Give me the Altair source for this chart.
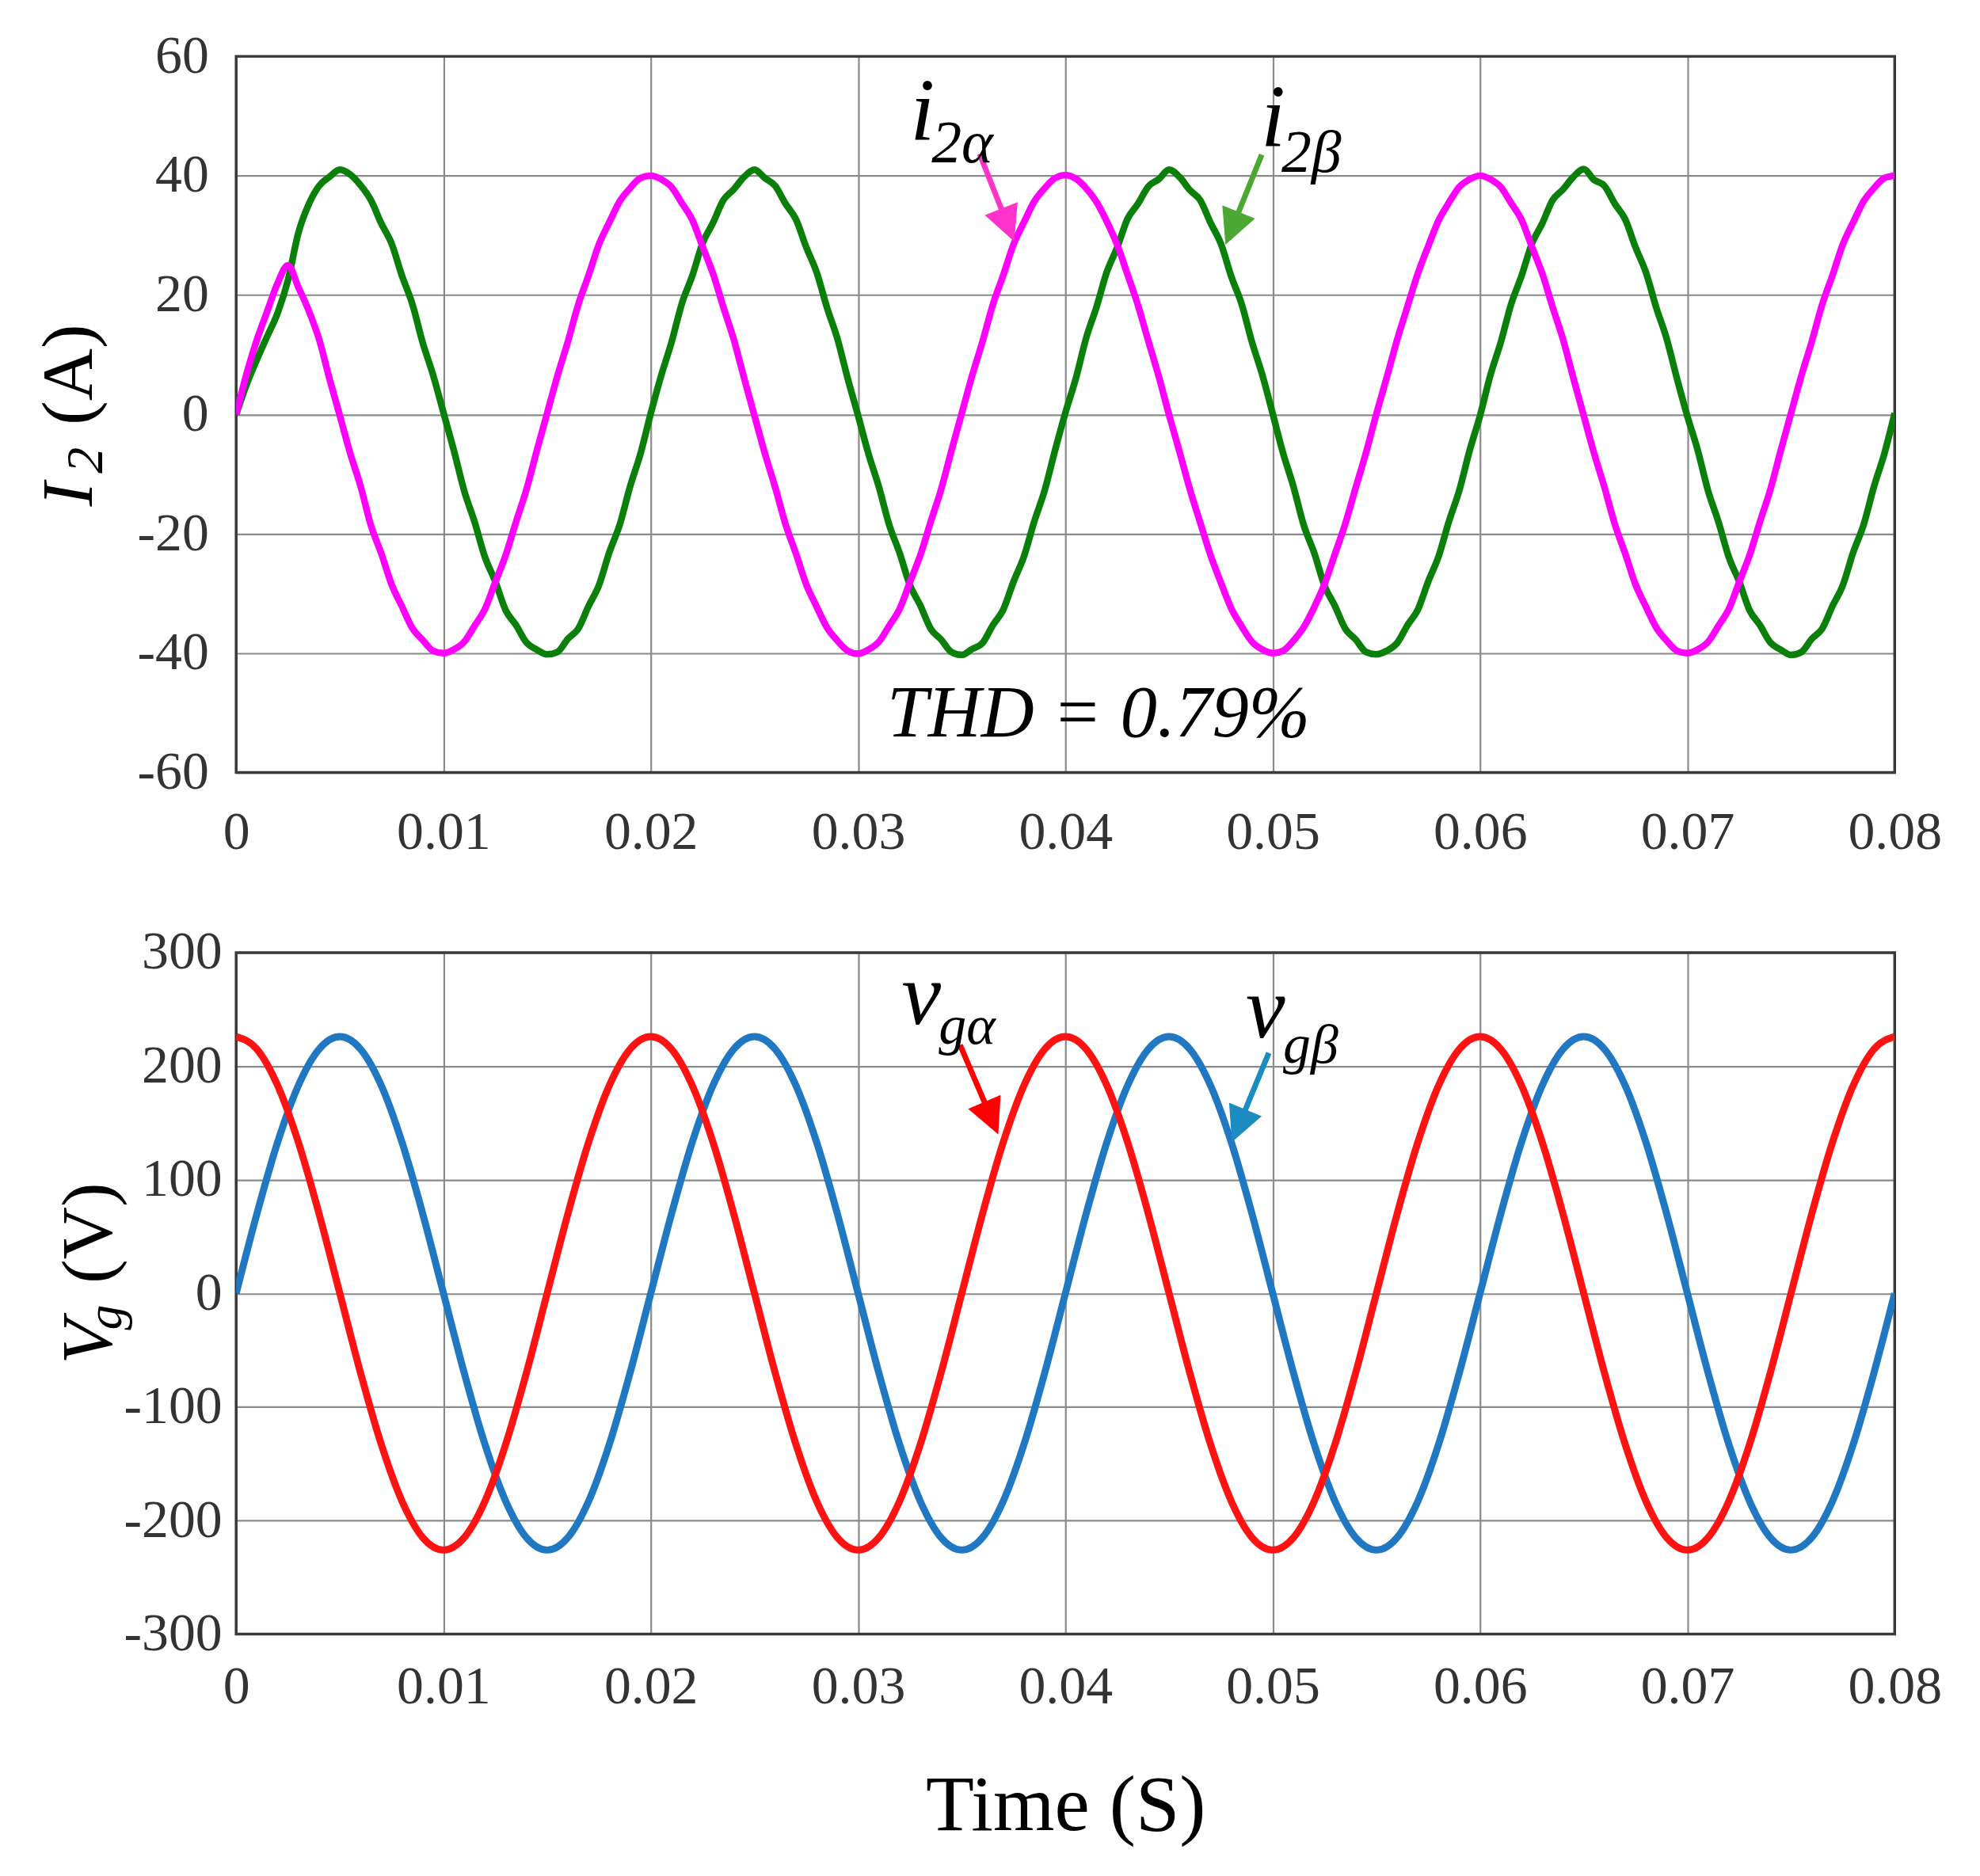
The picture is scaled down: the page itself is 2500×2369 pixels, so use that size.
import math
import altair as alt
import pandas as pd

# ---------------- data ----------------
# current samples every 0.5 ms (sample clock of the recorded waveform)
T_CURRENT = [round(k * 0.0005, 4) for k in range(161)]

I2_ALPHA = [
    0.0, 6.8, 12.5, 17.3, 22.0, 25.0, 21.3, 17.4, 12.6, 6.0,
    -0.2, -6.5, -12.0, -18.6, -23.3, -28.5, -32.2, -35.8, -37.8, -39.6,
    -40.0, -39.4, -38.1, -35.4, -32.6, -28.1, -23.6, -18.0, -12.6, -6.1,
    0.2, 6.5, 12.2, 18.4, 23.3, 28.5, 32.2, 35.7, 37.9, 39.6,
    40.0, 39.4, 38.1, 35.4, 32.6, 28.1, 23.6, 18.0, 12.6, 6.1,
    -0.2, -6.5, -12.2, -18.4, -23.3, -28.5, -32.2, -35.7, -37.9, -39.6,
    -40.1, -39.4, -38.1, -35.4, -32.6, -28.1, -23.6, -18.0, -12.6, -6.1,
    0.2, 6.5, 12.2, 18.4, 23.3, 28.5, 32.2, 35.7, 37.9, 39.6,
    40.1, 39.5, 37.9, 35.6, 32.3, 28.4, 23.4, 18.3, 12.3, 6.4,
    -0.1, -6.2, -12.5, -18.1, -23.6, -28.2, -32.5, -35.5, -38.1, -39.4,
    -40.0, -39.6, -37.9, -35.6, -32.3, -28.4, -23.4, -18.3, -12.3, -6.4,
    0.1, 6.2, 12.5, 18.1, 23.6, 28.2, 32.5, 35.5, 38.1, 39.4,
    40.0, 39.4, 38.1, 35.4, 32.6, 28.1, 23.6, 18.0, 12.6, 6.1,
    -0.2, -6.5, -12.2, -18.4, -23.3, -28.5, -32.2, -35.7, -37.9, -39.6,
    -40.0, -39.4, -38.1, -35.4, -32.6, -28.1, -23.6, -18.0, -12.6, -6.1,
    0.2, 6.5, 12.2, 18.4, 23.3, 28.5, 32.2, 35.7, 37.9, 39.6,
    40.0,
]

I2_BETA = [
    0.0, 5.0, 9.2, 13.1, 17.0, 22.5, 30.4, 35.2, 38.3, 39.8,
    41.0, 40.2, 38.4, 35.9, 32.0, 28.6, 23.2, 18.5, 12.0, 6.6,
    0.3, -6.0, -12.8, -18.0, -23.9, -28.0, -32.8, -35.3, -38.2, -39.4,
    -40.2, -39.8, -37.6, -35.9, -32.1, -28.6, -23.1, -18.5, -12.1, -6.6,
    0.2, 6.5, 12.1, 18.6, 23.2, 28.7, 32.1, 35.9, 37.7, 39.8,
    41.0, 39.6, 38.3, 35.3, 32.7, 28.0, 23.8, 17.9, 12.7, 6.0,
    -0.2, -6.6, -12.1, -18.5, -23.2, -28.6, -32.0, -35.9, -37.7, -39.8,
    -40.3, -39.3, -38.3, -35.3, -32.7, -28.0, -23.8, -17.9, -12.7, -6.0,
    0.3, 6.0, 12.8, 18.0, 23.9, 28.0, 32.8, 35.3, 38.2, 39.4,
    41.0, 39.8, 37.6, 35.9, 32.1, 28.6, 23.1, 18.5, 12.1, 6.6,
    0.1, -6.5, -12.1, -18.6, -23.2, -28.7, -32.1, -35.9, -37.7, -39.8,
    -40.2, -39.6, -38.3, -35.3, -32.7, -28.0, -23.8, -17.9, -12.7, -6.0,
    -0.2, 6.6, 12.1, 18.5, 23.2, 28.6, 32.0, 35.9, 37.7, 39.8,
    41.1, 39.3, 38.3, 35.3, 32.7, 28.0, 23.8, 17.9, 12.7, 6.0,
    -0.3, -6.0, -12.8, -18.0, -23.9, -28.0, -32.8, -35.3, -38.2, -39.4,
    -40.3, -39.8, -37.6, -35.9, -32.1, -28.6, -23.1, -18.5, -12.1, -6.6,
    0.2,
]

# voltage samples every 1 ms
T_VOLT = [round(k * 0.001, 3) for k in range(81)]

V_ALPHA = [
    226, 215, 183, 133, 70, 0, -70, -133, -183, -215,
    -226, -215, -183, -133, -70, 0, 70, 133, 183, 215,
    226, 215, 183, 133, 70, 0, -70, -133, -183, -215,
    -226, -215, -183, -133, -70, 0, 70, 133, 183, 215,
    226, 215, 183, 133, 70, 0, -70, -133, -183, -215,
    -226, -215, -183, -133, -70, 0, 70, 133, 183, 215,
    226, 215, 183, 133, 70, 0, -70, -133, -183, -215,
    -226, -215, -183, -133, -70, 0, 70, 133, 183, 215,
    226,
]

V_BETA = [
    0, 70, 133, 183, 215, 226, 215, 183, 133, 70,
    0, -70, -133, -183, -215, -226, -215, -183, -133, -70,
    0, 70, 133, 183, 215, 226, 215, 183, 133, 70,
    0, -70, -133, -183, -215, -226, -215, -183, -133, -70,
    0, 70, 133, 183, 215, 226, 215, 183, 133, 70,
    0, -70, -133, -183, -215, -226, -215, -183, -133, -70,
    0, 70, 133, 183, 215, 226, 215, 183, 133, 70,
    0, -70, -133, -183, -215, -226, -215, -183, -133, -70,
    0,
]

X_TICKS = [0, 0.01, 0.02, 0.03, 0.04, 0.05, 0.06, 0.07, 0.08]
I_TICKS = [-60, -40, -20, 0, 20, 40, 60]
V_TICKS = [-300, -200, -100, 0, 100, 200, 300]

# annotation anchors (data coordinates)
TOP_MAIN_T = [0.03251, 0.04943]
TOP_MAIN_V = [45.9, 44.85]
TOP_MAIN_TXT = ["i", "i"]
TOP_SUB_T = [0.03354, 0.05042]
TOP_SUB_V = [42.2, 40.62]
TOP_SUB_TXT = ["2α", "2β"]
THD_T = [0.0314]
THD_V = [-53.96]
THD_TXT = ["THD = 0.79%"]
TOP_ARROW_T0 = [0.03586, 0.04947]
TOP_ARROW_V0 = [43.66, 43.53]
TOP_ARROW_T1 = [0.03753, 0.04772]
TOP_ARROW_V1 = [28.98, 28.45]
TOP_ARROW_COL = ["#ff33cc", "#4ca832"]

BOT_MAIN_T = [0.0321, 0.0487]
BOT_MAIN_V = [237.4, 225.6]
BOT_MAIN_TXT = ["v", "v"]
BOT_SUB_T = [0.03389, 0.0505]
BOT_SUB_V = [220.0, 203.3]
BOT_SUB_TXT = ["gα", "gβ"]
BOT_ARROW_T0 = [0.03492, 0.04981]
BOT_ARROW_V0 = [218.6, 211.7]
BOT_ARROW_T1 = [0.03676, 0.04803]
BOT_ARROW_V1 = [140.0, 133.1]
BOT_ARROW_COL = ["#ff0000", "#1a8cc0"]

# ---------------- layout / style ----------------
W = 2100
H_TOP = 907
H_BOT = 863
SERIF = "Liberation Serif"
FRAME = "#3a3a3a"
HEAD = "M0,0L-0.5,1L0.5,1Z"

xscale = alt.Scale(domain=[0, 0.08], nice=False, zero=False)


def arrows_df(t0, v0, t1, v1, cols, ylo, yhi, h):
    rows = []
    for a, b, c, d, col in zip(t0, v0, t1, v1, cols):
        dx = (c - a) / 0.08 * W
        dy = -(d - b) / (yhi - ylo) * h
        ang = math.degrees(math.atan2(dx, -dy)) % 360
        rows.append({"t": a, "v": b,
                     "t2": c - 0.28 * (c - a), "v2": d - 0.28 * (d - b),
                     "tt": c, "vt": d, "ang": ang, "col": col})
    return pd.DataFrame(rows)


def frame(h):
    return alt.Chart(pd.DataFrame({"k": [0]})).mark_rect(
        filled=False, stroke=FRAME, strokeWidth=3.5
    ).encode(x=alt.value(0), x2=alt.value(W), y=alt.value(0), y2=alt.value(h))


def ptext(txt, x, y, size, style="normal"):
    return alt.Chart(pd.DataFrame({"s": [txt]})).mark_text(
        font=SERIF, fontSize=size, fontStyle=style, angle=270,
        align="left", baseline="alphabetic", color="black"
    ).encode(text="s:N", x=alt.value(x), y=alt.value(y))


def dtext(ts, vs, txts, size, style="italic"):
    return alt.Chart(pd.DataFrame({"t": ts, "v": vs, "s": txts})).mark_text(
        font=SERIF, fontSize=size, fontStyle=style,
        align="left", baseline="alphabetic", color="black"
    ).encode(x="t:Q", y="v:Q", text="s:N")


def arrow_layers(df):
    shaft = alt.Chart(df).mark_rule(strokeWidth=7).encode(
        x="t:Q", y="v:Q", x2="t2:Q", y2="v2:Q",
        color=alt.Color("col:N", scale=None),
    )
    head = alt.Chart(df).mark_point(
        shape=HEAD, filled=True, size=8000, opacity=1, strokeWidth=0
    ).encode(
        x=alt.X("tt:Q"), y=alt.Y("vt:Q"),
        angle=alt.Angle("ang:Q", scale=None),
        color=alt.Color("col:N", scale=None),
    )
    return [shaft, head]


LBL = "'' + datum.value"

# ---------------- top panel: grid current ----------------
yscale_i = alt.Scale(domain=[-60, 60], nice=False, zero=False)
x_axis_top = alt.Axis(values=X_TICKS, title=None, labelPadding=42,
                      labelFlush=False, labelOverlap=False, labelExpr=LBL)
y_axis_top = alt.Axis(values=I_TICKS, title=None, labelPadding=35,
                      labelOverlap=False, labelExpr=LBL)

df_ib = pd.DataFrame({"t": T_CURRENT, "v": I2_BETA})
df_ia = pd.DataFrame({"t": T_CURRENT, "v": I2_ALPHA})

line_ib = alt.Chart(df_ib).mark_line(color="#0a800a", strokeWidth=8.5,
                                     interpolate="monotone", clip=True).encode(
    x=alt.X("t:Q", scale=xscale, axis=x_axis_top),
    y=alt.Y("v:Q", scale=yscale_i, axis=y_axis_top),
)
line_ia = alt.Chart(df_ia).mark_line(color="#ff00ff", strokeWidth=8.5,
                                     interpolate="monotone", clip=True).encode(
    x="t:Q", y="v:Q"
)

top_arrows = arrows_df(TOP_ARROW_T0, TOP_ARROW_V0, TOP_ARROW_T1, TOP_ARROW_V1,
                       TOP_ARROW_COL, -60, 60, H_TOP)

top = alt.layer(
    frame(H_TOP),
    line_ib,
    line_ia,
    *arrow_layers(top_arrows),
    dtext(TOP_MAIN_T, TOP_MAIN_V, TOP_MAIN_TXT, 112),
    dtext(TOP_SUB_T, TOP_SUB_V, TOP_SUB_TXT, 76),
    dtext(THD_T, THD_V, THD_TXT, 93),
    ptext("I", -183, 570, 92, "italic"),
    ptext("2", -170, 528, 66, "italic"),
    ptext("(A)", -183, 467, 92),
).properties(width=W, height=H_TOP)

# ---------------- bottom panel: grid voltage ----------------
yscale_v = alt.Scale(domain=[-300, 300], nice=False, zero=False)
x_axis_bot = alt.Axis(values=X_TICKS, title="Time (S)", labelPadding=33,
                      titlePadding=68, labelFlush=False, labelOverlap=False,
                      labelExpr=LBL)
y_axis_bot = alt.Axis(values=V_TICKS, title=None, labelPadding=18,
                      labelOverlap=False, labelExpr=LBL)

df_vb = pd.DataFrame({"t": T_VOLT, "v": V_BETA})
df_va = pd.DataFrame({"t": T_VOLT, "v": V_ALPHA})

line_vb = alt.Chart(df_vb).mark_line(color="#1f78c1", strokeWidth=9,
                                     interpolate="monotone", clip=True).encode(
    x=alt.X("t:Q", scale=xscale, axis=x_axis_bot),
    y=alt.Y("v:Q", scale=yscale_v, axis=y_axis_bot),
)
line_va = alt.Chart(df_va).mark_line(color="#ff1212", strokeWidth=9,
                                     interpolate="monotone", clip=True).encode(
    x="t:Q", y="v:Q"
)

bot_arrows = arrows_df(BOT_ARROW_T0, BOT_ARROW_V0, BOT_ARROW_T1, BOT_ARROW_V1,
                       BOT_ARROW_COL, -300, 300, H_BOT)

bottom = alt.layer(
    frame(H_BOT),
    line_vb,
    line_va,
    *arrow_layers(bot_arrows),
    dtext(BOT_MAIN_T, BOT_MAIN_V, BOT_MAIN_TXT, 112),
    dtext(BOT_SUB_T, BOT_SUB_V, BOT_SUB_TXT, 70),
    ptext("V", -158, 521, 92, "italic"),
    ptext("g", -146, 478, 64, "italic"),
    ptext("(V)", -158, 419, 92),
).properties(width=W, height=H_BOT)

chart = alt.vconcat(top, bottom, spacing=84).properties(
    padding={"left": 34, "top": 26, "right": 40, "bottom": 20},
    background="white",
).configure_view(stroke=None).configure_axis(
    grid=True, gridColor="#8a8a8a", gridWidth=2.2, domain=False,
    ticks=False, tickSize=0,
    labelFont=SERIF, labelFontSize=68, labelColor="#333333",
    titleFont=SERIF, titleFontSize=100, titleColor="black",
    titleFontWeight="normal",
)

chart.save("out.html", embed_options={"renderer": "svg", "actions": False})
